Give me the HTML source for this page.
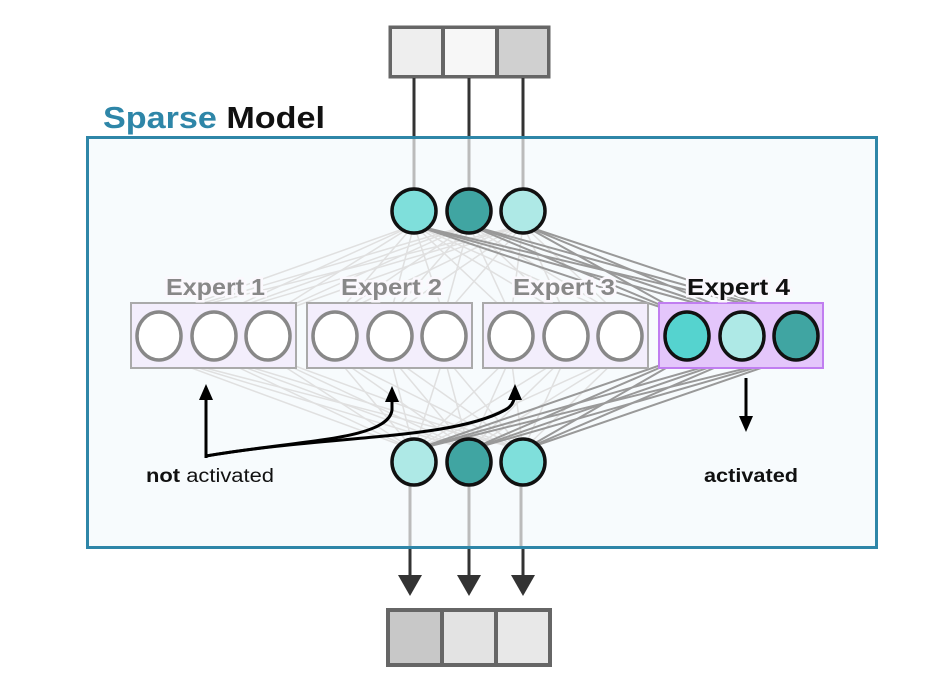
<!DOCTYPE html>
<html><head><meta charset="utf-8"><style>
html,body{margin:0;padding:0;background:#fff;}
svg{display:block;font-family:"Liberation Sans",sans-serif;}
</style></head><body>
<svg width="927" height="688" viewBox="0 0 927 688" xmlns="http://www.w3.org/2000/svg">
<defs>
<marker id="ah" markerWidth="16" markerHeight="14" refX="8" refY="7" orient="auto" markerUnits="userSpaceOnUse"><path d="M0,0 L16,7 L0,14 z" fill="#000"/></marker>
</defs>
<rect width="927" height="688" fill="#fff"/>
<rect x="388.5" y="25.5" width="162" height="53" fill="#666"/>
<rect x="392" y="29" width="49" height="46" fill="#eeeeee"/>
<rect x="445" y="29" width="50" height="46" fill="#f7f7f7"/>
<rect x="499" y="29" width="48" height="46" fill="#d0d0d0"/>
<g stroke="#333" stroke-width="3">
<line x1="414" y1="78" x2="414" y2="138"/><line x1="469" y1="78" x2="469" y2="138"/><line x1="523" y1="78" x2="523" y2="138"/>
</g>
<text x="103" y="128" font-size="31" font-weight="bold" textLength="222" lengthAdjust="spacingAndGlyphs"><tspan fill="#2e86a8">Sparse</tspan><tspan fill="#111"> Model</tspan></text>
<rect x="87.5" y="137.5" width="789" height="410" fill="#f7fbfd" stroke="#2e86a8" stroke-width="3"/>
<g stroke="#bbb" stroke-width="3">
<line x1="414" y1="139" x2="414" y2="190"/><line x1="469" y1="139" x2="469" y2="190"/><line x1="523" y1="139" x2="523" y2="190"/>
<line x1="410" y1="485" x2="410" y2="546"/><line x1="469" y1="485" x2="469" y2="546"/><line x1="521" y1="485" x2="521" y2="546"/>
</g>
<g id="conn"></g>
<g stroke-width="2">
<rect x="131" y="303" width="165" height="65" fill="#f3eefc" stroke="#aaa"/>
<rect x="307" y="303" width="165" height="65" fill="#f3eefc" stroke="#aaa"/>
<rect x="483" y="303" width="165" height="65" fill="#f3eefc" stroke="#aaa"/>
<rect x="659" y="303" width="164" height="65" fill="#e4c6fb" stroke="#c07ef0"/>
</g>
<g stroke="#888" stroke-width="3.5" fill="#fff">
<ellipse cx="159" cy="336" rx="22" ry="24"/><ellipse cx="214" cy="336" rx="22" ry="24"/><ellipse cx="268" cy="336" rx="22" ry="24"/>
<ellipse cx="335" cy="336" rx="22" ry="24"/><ellipse cx="390" cy="336" rx="22" ry="24"/><ellipse cx="444" cy="336" rx="22" ry="24"/>
<ellipse cx="511" cy="336" rx="22" ry="24"/><ellipse cx="566" cy="336" rx="22" ry="24"/><ellipse cx="620" cy="336" rx="22" ry="24"/>
</g>
<g stroke="#111" stroke-width="3.5">
<ellipse cx="687" cy="336" rx="22" ry="24" fill="#55d3cf"/><ellipse cx="742" cy="336" rx="22" ry="24" fill="#aee9e6"/><ellipse cx="796" cy="336" rx="22" ry="24" fill="#40a5a2"/>
</g>
<g font-size="23" font-weight="bold" stroke="#fbf8fd" stroke-width="5" paint-order="stroke">
<text x="166" y="295" fill="#888" textLength="99" lengthAdjust="spacingAndGlyphs">Expert 1</text>
<text x="341" y="295" fill="#888" textLength="101" lengthAdjust="spacingAndGlyphs">Expert 2</text>
<text x="513" y="295" fill="#888" textLength="102" lengthAdjust="spacingAndGlyphs">Expert 3</text>
<text x="687" y="295" fill="#111" textLength="103" lengthAdjust="spacingAndGlyphs">Expert 4</text>
</g>
<g stroke="#111" stroke-width="3.5">
<circle cx="414" cy="211" r="22" fill="#7fdfdb"/><circle cx="469" cy="211" r="22" fill="#40a5a2"/><circle cx="523" cy="211" r="22" fill="#aee9e6"/>
<ellipse cx="414" cy="462" rx="22" ry="23" fill="#aee9e6"/><ellipse cx="469" cy="462" rx="22" ry="23" fill="#40a5a2"/><ellipse cx="523" cy="462" rx="22" ry="23" fill="#7fdfdb"/>
</g>
<g stroke="#000" stroke-width="3" fill="none">
<line x1="206" y1="458" x2="206" y2="392" marker-end="url(#ah)"/>
<path d="M206,456 C300,440 388,440 392,410 L392,394" marker-end="url(#ah)"/>
<path d="M206,456 C330,435 450,440 505,410 Q515,405 515,392" marker-end="url(#ah)"/>
<line x1="746" y1="378" x2="746" y2="424" marker-end="url(#ah)"/>
</g>
<text x="146" y="482" font-size="19" fill="#111" textLength="128" lengthAdjust="spacingAndGlyphs"><tspan font-weight="bold">not</tspan> activated</text>
<text x="704" y="482" font-size="19" font-weight="bold" fill="#111" textLength="94" lengthAdjust="spacingAndGlyphs">activated</text>
<g stroke="#333" stroke-width="3">
<line x1="410" y1="549" x2="410" y2="578"/><line x1="469" y1="549" x2="469" y2="578"/><line x1="523" y1="549" x2="523" y2="578"/>
</g>
<g fill="#333">
<path d="M398,575 L422,575 L410,596 z"/><path d="M457,575 L481,575 L469,596 z"/><path d="M511,575 L535,575 L523,596 z"/>
</g>
<rect x="386" y="608" width="166" height="59" fill="#666"/>
<rect x="390" y="612" width="50" height="51" fill="#c8c8c8"/>
<rect x="444" y="612" width="50" height="51" fill="#e3e3e3"/>
<rect x="498" y="612" width="50" height="51" fill="#e8e8e8"/>
<script>
(function(){
var g=document.getElementById('conn'),ns='http://www.w3.org/2000/svg';
var ex=[159,214,268,335,390,444,511,566,620,687,742,796];
var top=[414,469,523];
ex.forEach(function(x,i){
 var act=i>=9;
 top.forEach(function(t){
  [[t,225,x,316],[t,450,x,356]].forEach(function(c){
   var l=document.createElementNS(ns,'line');
   l.setAttribute('x1',c[0]);l.setAttribute('y1',c[1]);l.setAttribute('x2',c[2]);l.setAttribute('y2',c[3]);
   l.setAttribute('stroke',act?'#999':'#e0e0e0');l.setAttribute('stroke-width',act?'2':'1.5');
   g.appendChild(l);
  });
 });
});
})();
</script>
</svg>
</body></html>
